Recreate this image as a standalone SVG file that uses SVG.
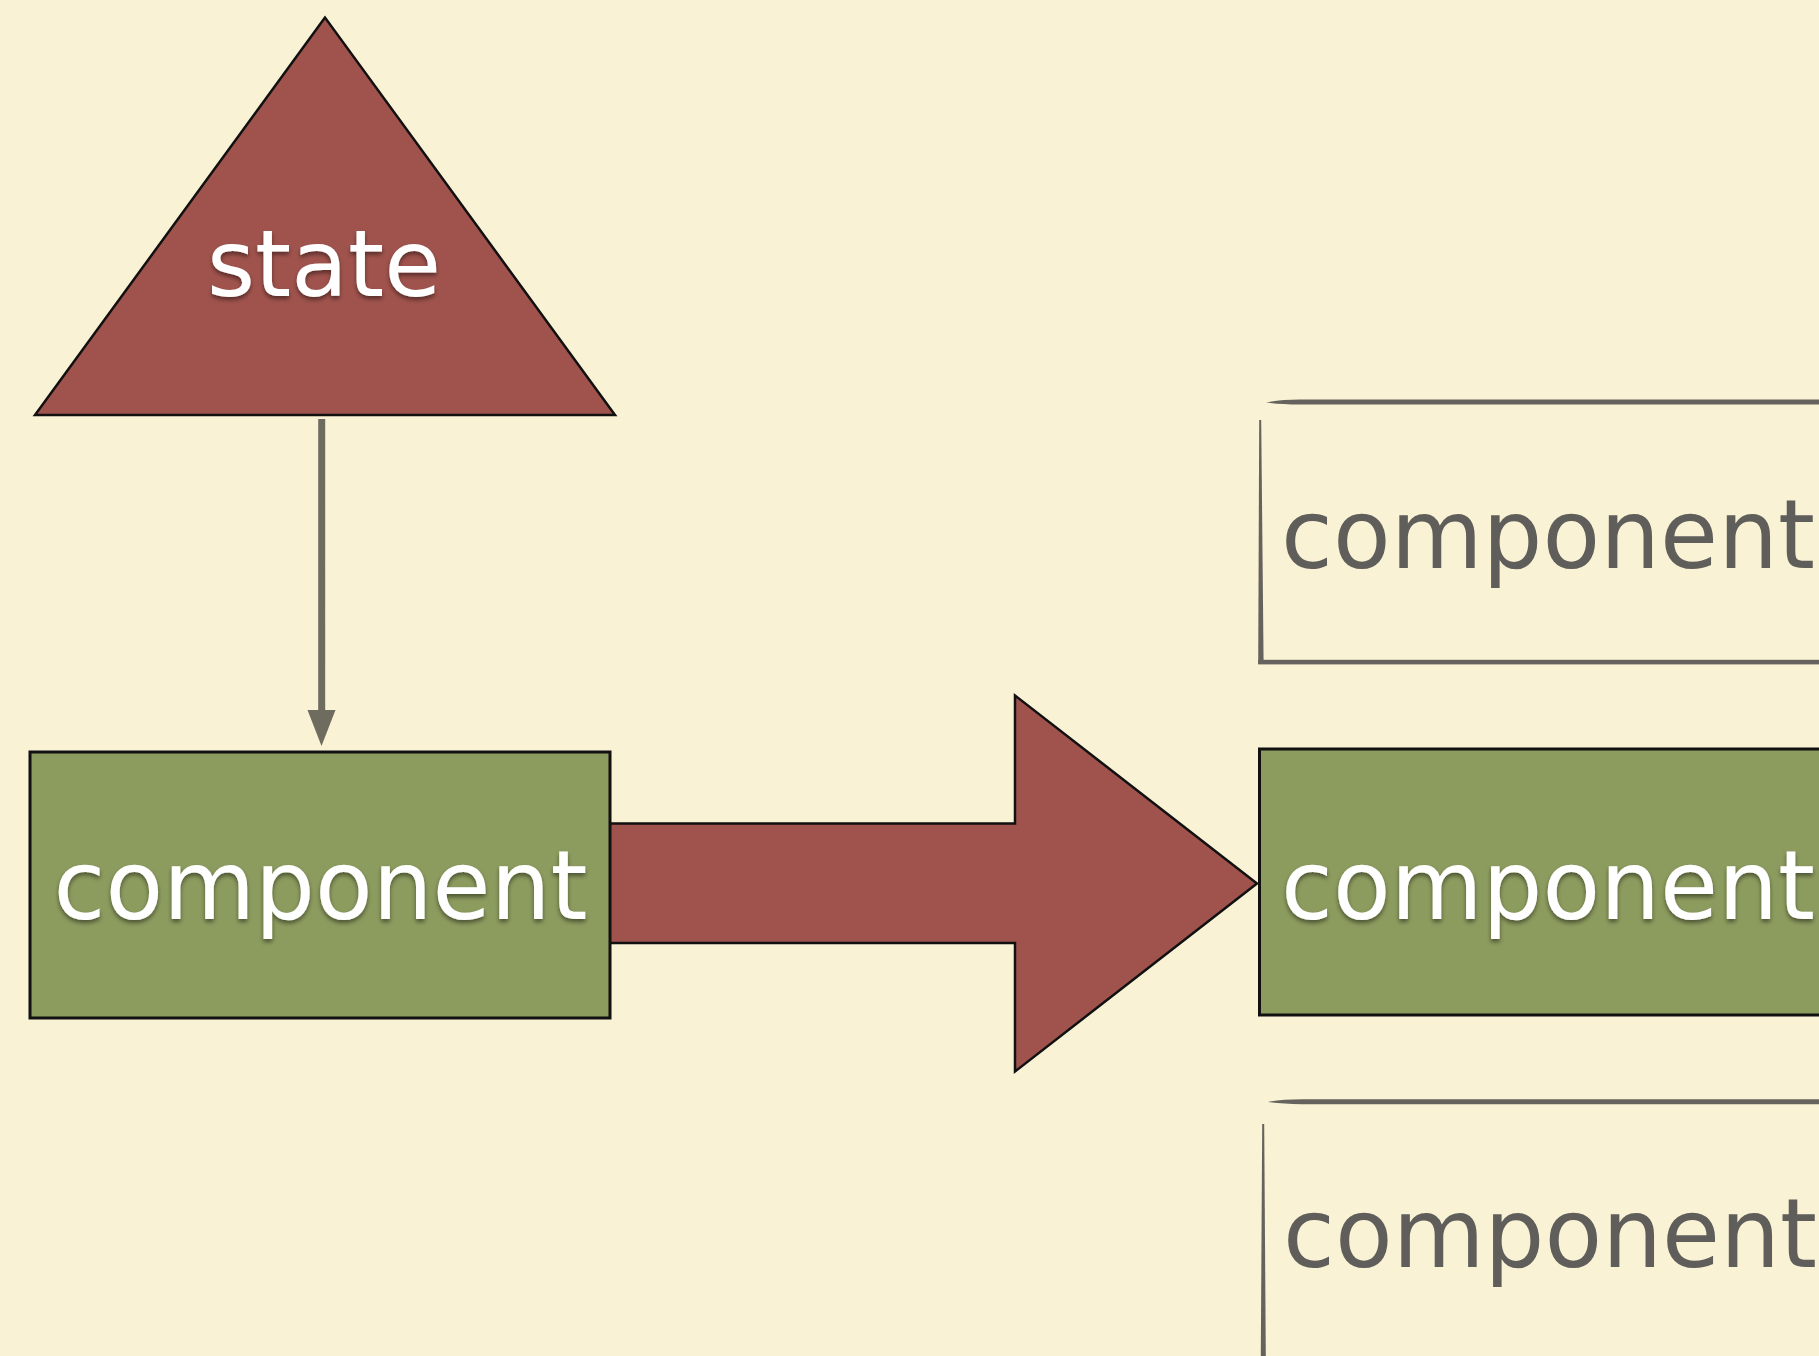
<svg xmlns="http://www.w3.org/2000/svg" width="1819" height="1356" viewBox="0 0 1819 1356">
  <defs>
    <style>
      .label { font-family: "DejaVu Sans", "Open Sans", sans-serif; font-size: 97px; }
      .small { font-size: 93px; }
      .light { fill: #ffffff; filter: url(#shadow); }
      .dark { fill: #5f5e5b; }
      .red { fill: #a0534d; stroke: #111111; stroke-width: 2.5; stroke-linejoin: miter; }
      .green { fill: #8c9b5e; stroke: #111111; stroke-width: 3; }
      .sketch { fill: #66635e; }
    </style>
    <filter id="shadow" x="-10%" y="-20%" width="120%" height="150%">
      <feDropShadow dx="0" dy="3" stdDeviation="2" flood-color="#000000" flood-opacity="0.45"/>
    </filter>
    <filter id="paper" x="0" y="0" width="100%" height="100%">
      <feTurbulence type="fractalNoise" baseFrequency="0.035" numOctaves="3" seed="7" result="n"/>
      <feColorMatrix in="n" type="matrix" values="0 0 0 0 0.93  0 0 0 0 0.88  0 0 0 0 0.70  0.35 0 0 0 -0.12"/>
    </filter>
  </defs>

  <!-- paper background -->
  <rect x="0" y="0" width="1819" height="1356" fill="#faf2d4"/>
  <rect x="0" y="0" width="1819" height="1356" filter="url(#paper)"/>

  <!-- connectors -->
  <g id="connectors">
    <line x1="321.7" y1="419" x2="321.7" y2="712" stroke="#6e6b5f" stroke-width="7"/>
    <path d="M307.5,710 L335.5,710 L321.5,746 Z" fill="#6e6b5f"/>
    <path class="red" d="M605,823.5 L1015,823.5 L1015,695.5 L1257,883.5 L1015,1071.5 L1015,943 L605,943 Z"/>
  </g>

  <!-- state triangle -->
  <g id="state">
    <path class="red" d="M325,17.5 L35,415 L615,415 Z"/>
    <text class="label small light" x="324" y="296" text-anchor="middle" textLength="234" lengthAdjust="spacingAndGlyphs">state</text>
  </g>

  <!-- source component -->
  <g id="component-left">
    <rect class="green" x="30" y="752" width="580" height="266"/>
    <text class="label light" x="320.5" y="919" text-anchor="middle" textLength="534" lengthAdjust="spacingAndGlyphs">component</text>
  </g>

  <!-- sketched component above -->
  <g id="component-top">
    <path class="sketch" d="M1266,402.5 Q1280,399.6 1300,399.6 L1830,399.6 L1830,404.6 L1300,404.6 Q1280,404.4 1266,402.5 Z"/>
    <path class="sketch" d="M1259.2,420 L1261.2,420 L1263.6,664 L1258.2,664 Z"/>
    <rect class="sketch" x="1258.2" y="659.8" width="580" height="4.6"/>
    <text class="label dark" x="1281" y="568" textLength="534" lengthAdjust="spacingAndGlyphs">component</text>
  </g>

  <!-- target component -->
  <g id="component-right">
    <rect class="green" x="1259.5" y="749" width="600" height="266"/>
    <text class="label light" x="1281" y="918.5" textLength="534" lengthAdjust="spacingAndGlyphs">component</text>
  </g>

  <!-- sketched component below -->
  <g id="component-bottom">
    <path class="sketch" d="M1268,1102 Q1282,1099.2 1302,1099.2 L1830,1099.2 L1830,1104.2 L1302,1104.2 Q1282,1104 1268,1102 Z"/>
    <path class="sketch" d="M1262.2,1124 L1264.2,1124 L1265.8,1356 L1260.8,1356 Z"/>
    <text class="label dark" x="1283" y="1266.5" textLength="534" lengthAdjust="spacingAndGlyphs">component</text>
  </g>
</svg>
